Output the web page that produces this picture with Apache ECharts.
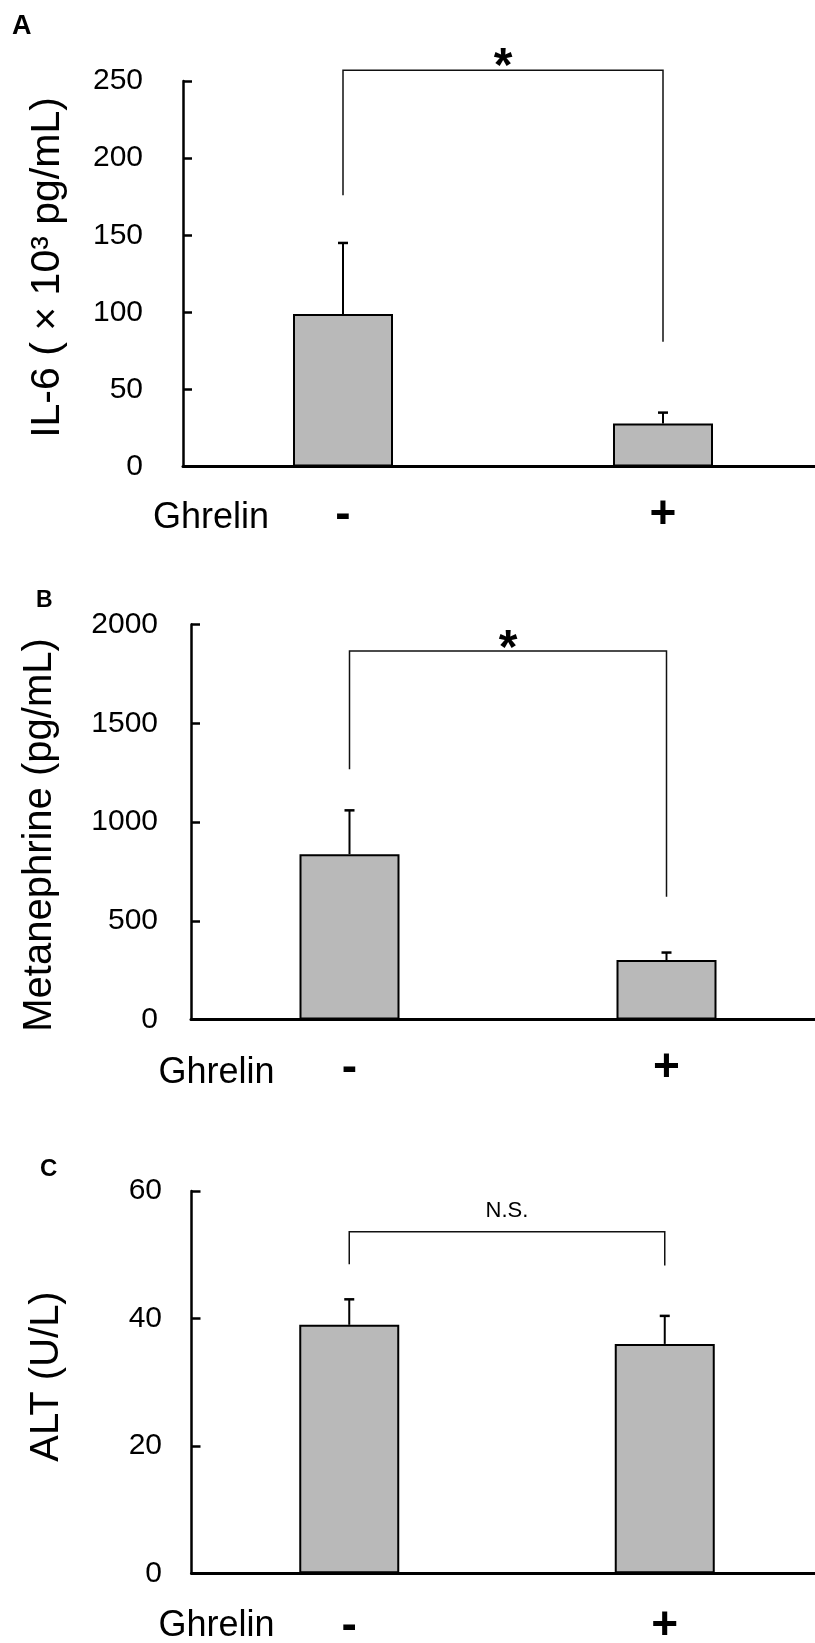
<!DOCTYPE html>
<html>
<head>
<meta charset="utf-8">
<script src="https://cdn.jsdelivr.net/npm/echarts@6/dist/echarts.min.js"></script>
<style>
html,body{margin:0;padding:0;background:#fff;}
#chart{width:815px;height:1643px;}
</style>
</head>
<body>
<div id="chart"></div>
<script>
// ---- data ----
const categories = ['-', '+'];

// Panel A: IL-6 (x10^3 pg/mL)
const il6Mean = [99, 28];
const il6SD = [46, 7];
const il6Axis = [0, 250, 50];          // min, max, interval
const il6Bracket = [176, 257, 81];     // left arm bottom, bracket top, right arm bottom
const il6Sig = '*';

// Panel B: Metanephrine (pg/mL)
const metMean = [837, 301];
const metSD = [222, 38];
const metAxis = [0, 2000, 500];
const metBracket = [1267, 1866, 622];
const metSig = '*';

// Panel C: ALT (U/L)
const altMean = [39, 36];
const altSD = [4, 4.4];
const altAxis = [0, 60, 20];
const altBracket = [48.5, 53.6, 48.3];
const altSig = 'N.S.';

const FONT = "'Liberation Sans', Arial, Helvetica, sans-serif";

// ---- helpers ----
function errRender(params, api) {
  const x = api.value(0), m = api.value(1), s = api.value(2);
  const p0 = api.coord([x, m]);
  const p1 = api.coord([x, m + s]);
  return {
    type: 'group',
    children: [
      {type: 'line', shape: {x1: p0[0], y1: p0[1], x2: p1[0], y2: p1[1]}, style: {stroke: '#000', lineWidth: 2}},
      {type: 'line', shape: {x1: p1[0] - 5, y1: p1[1], x2: p1[0] + 5, y2: p1[1]}, style: {stroke: '#000', lineWidth: 2.5}}
    ]
  };
}

function bracketRender(sig, fontSize, weight, gap) {
  return function (params, api) {
    const a = api.coord([0, api.value(1)]);
    const b = api.coord([0, api.value(2)]);
    const c = api.coord([1, api.value(2)]);
    const d = api.coord([1, api.value(3)]);
    return {
      type: 'group',
      children: [
        {type: 'polyline', shape: {points: [a, b, c, d]}, style: {stroke: '#111', lineWidth: 1.5, fill: 'none'}},
        {type: 'text', x: (b[0] + c[0]) / 2, y: b[1] - gap,
         style: {text: sig, fontSize: fontSize, fontWeight: weight, fontFamily: FONT, fill: '#000', align: 'center', verticalAlign: 'middle'}}
      ]
    };
  };
}

function makeX(gridIndex, margin) {
  return {
    type: 'category', gridIndex: gridIndex, data: categories,
    axisLine: {lineStyle: {color: '#000', width: 3}},
    axisTick: {show: false},
    axisLabel: {fontSize: 46, fontWeight: 'bold', color: '#000', fontFamily: FONT, verticalAlign: 'middle', margin: margin}
  };
}
function makeY(gridIndex, ax, margin) {
  return {
    type: 'value', gridIndex: gridIndex, min: ax[0], max: ax[1], interval: ax[2],
    axisLine: {show: true, lineStyle: {color: '#000', width: 2.5}},
    axisTick: {show: true, inside: true, length: 9, lineStyle: {color: '#000', width: 2.5}},
    splitLine: {show: false},
    axisLabel: {fontSize: 30, color: '#000', fontFamily: FONT, margin: margin, formatter: v => String(v)}
  };
}
function barSeries(idx, vals) {
  return {
    type: 'bar', xAxisIndex: idx, yAxisIndex: idx, data: vals, barWidth: 100,
    itemStyle: {color: '#b9b9b9', borderColor: '#000', borderWidth: 2},
    silent: true
  };
}
function errSeries(idx, mean, sd) {
  return {
    type: 'custom', xAxisIndex: idx, yAxisIndex: idx,
    data: mean.map((m, i) => [i, m, sd[i]]),
    encode: {x: 0, y: 1},
    renderItem: errRender, silent: true, z: 5
  };
}
function bracketSeries(idx, br, sig, fontSize, weight, gap) {
  return {
    type: 'custom', xAxisIndex: idx, yAxisIndex: idx,
    data: [[0, br[0], br[1], br[2]]],
    encode: {x: 0, y: 1},
    renderItem: bracketRender(sig, fontSize, weight, gap), silent: true, clip: false, z: 6
  };
}
function txt(x, y, text, size, weight, rot) {
  return {
    type: 'text', x: x, y: y, rotation: rot || 0,
    style: {text: text, fontSize: size, fontWeight: weight || 'normal', fontFamily: FONT, fill: '#000',
            align: rot ? 'center' : 'left', verticalAlign: 'middle'}
  };
}

const chart = echarts.init(document.getElementById('chart'), null, {renderer: 'canvas'});
chart.setOption({
  backgroundColor: '#fff',
  animation: false,
  grid: [
    {left: 183, top: 81, width: 640, height: 385.6, outerBoundsMode: 'none', containLabel: false},
    {left: 191, top: 624.5, width: 634, height: 395, outerBoundsMode: 'none', containLabel: false},
    {left: 191.5, top: 1191, width: 631, height: 382.3, outerBoundsMode: 'none', containLabel: false}
  ],
  xAxis: [makeX(0, 49), makeX(1, 49), makeX(2, 53)],
  yAxis: [makeY(0, il6Axis, 40), makeY(1, metAxis, 33), makeY(2, altAxis, 29.5)],
  series: [
    barSeries(0, il6Mean), errSeries(0, il6Mean, il6SD), bracketSeries(0, il6Bracket, il6Sig, 48, 'bold', 2),
    barSeries(1, metMean), errSeries(1, metMean, metSD), bracketSeries(1, metBracket, metSig, 48, 'bold', 1),
    barSeries(2, altMean), errSeries(2, altMean, altSD), bracketSeries(2, altBracket, altSig, 22, 'normal', 20.5)
  ],
  graphic: [
    txt(12, 27, 'A', 27, 'bold'),
    txt(36, 600.5, 'B', 23, 'bold'),
    txt(40, 1169, 'C', 24, 'bold'),
    txt(48, 267.5, 'IL-6 ( × 10³ pg/mL)', 41, 'normal', Math.PI / 2),
    txt(40, 835, 'Metanephrine (pg/mL)', 40, 'normal', Math.PI / 2),
    txt(47, 1376.5, 'ALT (U/L)', 40, 'normal', Math.PI / 2),
    txt(153, 518.5, 'Ghrelin', 36),
    txt(158.5, 1073, 'Ghrelin', 36),
    txt(158.5, 1626, 'Ghrelin', 36)
  ]
});
</script>
</body>
</html>
